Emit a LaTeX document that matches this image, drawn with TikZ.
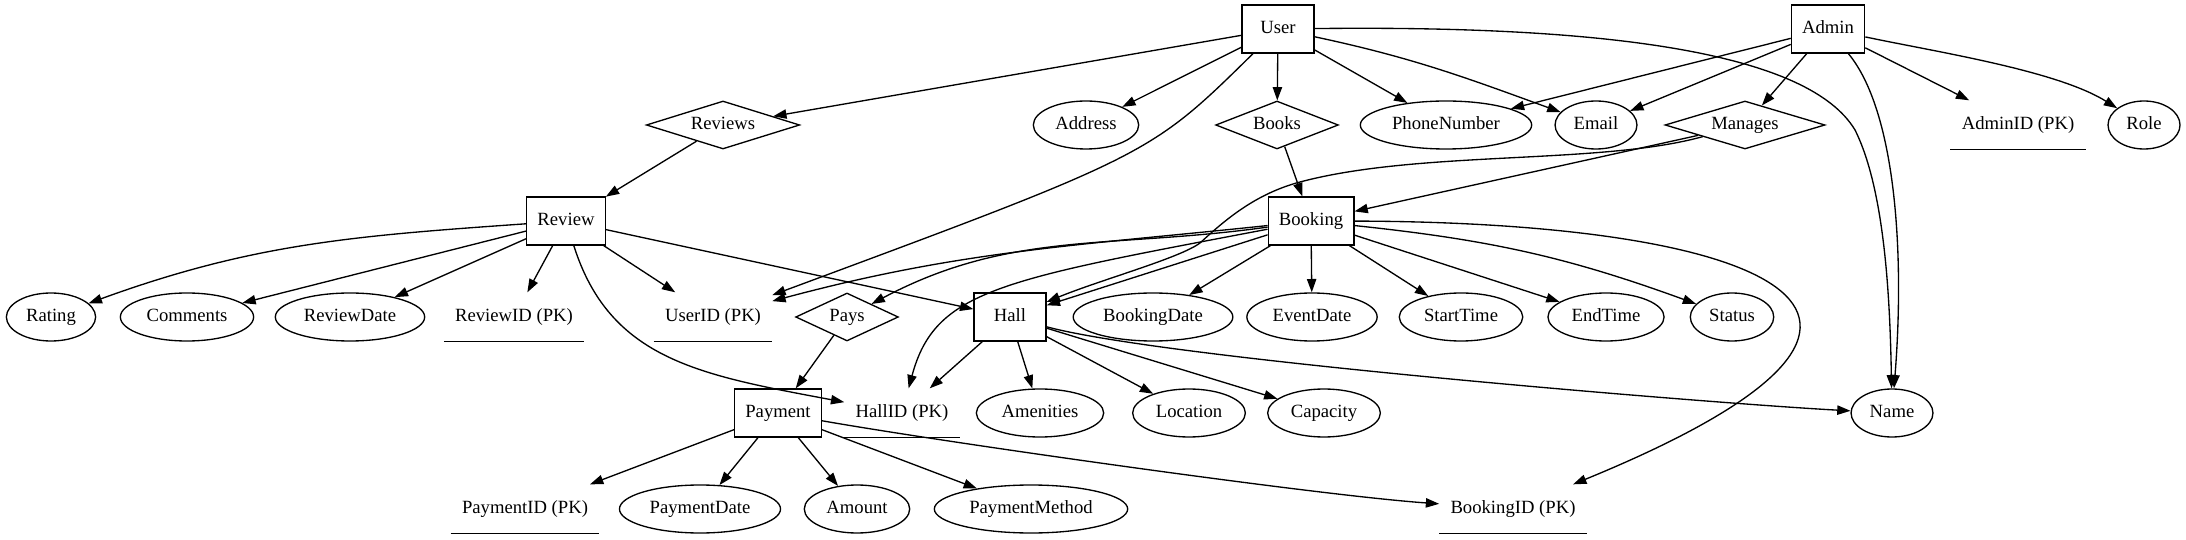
\documentclass[tikz,border=0pt]{standalone}
\usepackage{fontspec}
\setmainfont{Liberation Serif}
\usetikzlibrary{arrows.meta,shapes.geometric}
\begin{document}
\begin{tikzpicture}[x=0.75pt,y=0.75pt,>={Triangle[length=10pt,width=7pt]},line width=1pt,
 font=\rmfamily\fontsize{14pt}{16pt}\selectfont,
 every node/.style={text height=9.5pt,text depth=3pt},
 ent/.style={draw,rectangle,minimum width=54pt,minimum height=36pt,inner xsep=8pt},
 attr/.style={draw,ellipse,minimum width=54pt,minimum height=36pt,inner xsep=5pt,inner ysep=2pt},
 rel/.style={draw,diamond,aspect=4,minimum height=36pt,inner xsep=0pt,inner ysep=0pt},
 pk/.style={rectangle,minimum width=54pt,minimum height=36pt,inner xsep=8pt}]
\useasboundingbox (0,0) rectangle (2186,539);
\node[ent] (user) at (1278,510) {User};
\node[ent] (admin) at (1828,510) {Admin};
\node[rel,minimum width=115pt] (reviews) at (723,414) {Reviews};
\node[attr] (address) at (1086,414) {Address};
\node[rel,minimum width=92pt] (books) at (1277,414) {Books};
\node[attr] (phone) at (1446,414) {PhoneNumber};
\node[attr] (email) at (1596,414) {Email};
\node[rel,minimum width=120pt] (manages) at (1745,414) {Manages};
\node[pk] (adminid) at (2018,414) {AdminID (PK)};
\node[attr] (role) at (2144,414) {Role};
\node[ent] (review) at (566,318) {Review};
\node[ent] (booking) at (1311,318) {Booking};
\node[attr] (rating) at (51,222) {Rating};
\node[attr] (comments) at (187,222) {Comments};
\node[attr] (revdate) at (350,222) {ReviewDate};
\node[pk] (reviewid) at (514,222) {ReviewID (PK)};
\node[pk] (userid) at (713,222) {UserID (PK)};
\node[rel,minimum width=77pt] (pays) at (847,222) {Pays};
\node[ent] (hall) at (1010,222) {Hall};
\node[attr] (bookdate) at (1153,222) {BookingDate};
\node[attr] (eventdate) at (1312,222) {EventDate};
\node[attr] (starttime) at (1461,222) {StartTime};
\node[attr] (endtime) at (1606,222) {EndTime};
\node[attr] (status) at (1732,222) {Status};
\node[ent] (payment) at (778,126) {Payment};
\node[pk] (hallid) at (902,126) {HallID (PK)};
\node[attr] (amenities) at (1040,126) {Amenities};
\node[attr] (location) at (1189,126) {Location};
\node[attr] (capacity) at (1324,126) {Capacity};
\node[attr] (nameattr) at (1892,126) {Name};
\node[pk] (paymentid) at (525,30) {PaymentID (PK)};
\node[attr] (paydate) at (700,30) {PaymentDate};
\node[attr] (amount) at (857,30) {Amount};
\node[attr] (method) at (1031,30) {PaymentMethod};
\node[pk] (bookingid) at (1513,30) {BookingID (PK)};
\foreach \k in {adminid,reviewid,userid,hallid,paymentid,bookingid}\draw (\k.south west)--(\k.south east);
\foreach \a/\b in {user/reviews,user/address,user/books,user/phone,admin/phone,admin/email,admin/manages,admin/adminid,reviews/review,books/booking,manages/booking,review/comments,review/revdate,review/reviewid,review/userid,review/hall,booking/hall,booking/bookdate,booking/eventdate,booking/starttime,booking/endtime,hall/hallid,hall/amenities,hall/location,hall/capacity,pays/payment,payment/paymentid,payment/paydate,payment/amount,payment/method}\draw[->] (\a)--(\b);
\draw[->] (user) to[out=-12,in=160] (email);
\draw[->] (user) .. controls (1150,384) .. (userid);
\draw[->] (user) .. controls (1620,514) and (1810,484) .. (1855,409) .. controls (1885,349) and (1890,239) .. (nameattr);
\draw[->] (admin) .. controls (1895,429) and (1905,289) .. (nameattr);
\draw[->] (admin) to[out=-12,in=148,looseness=0.7] (role);
\draw[->] (manages) .. controls (1600,374) and (1420,389) .. (1300,357) .. controls (1255,345) and (1225,319) .. (1200,296) .. controls (1180,281) and (1100,259) .. (hall);
\draw[->] (review) to[out=184,in=20] (rating);
\draw[->] (review) .. controls (610,179) and (700,164) .. (hallid);
\draw[->] (booking) to[out=186,in=15] (userid);
\draw[->] (booking) to[out=188,in=28] (pays);
\draw[->] (booking) .. controls (1000,259) and (935,249) .. (hallid);
\draw[->] (booking) to[out=-6,in=160] (status);
\draw[->] (booking) .. controls (1753,317) and (2001,230) .. (bookingid);
\draw[->] (hall) to[out=-15,in=177,looseness=0.4] (nameattr);
\draw[->] (payment) to[out=-10,in=176,looseness=0.5] (bookingid);
\end{tikzpicture}
\end{document}
